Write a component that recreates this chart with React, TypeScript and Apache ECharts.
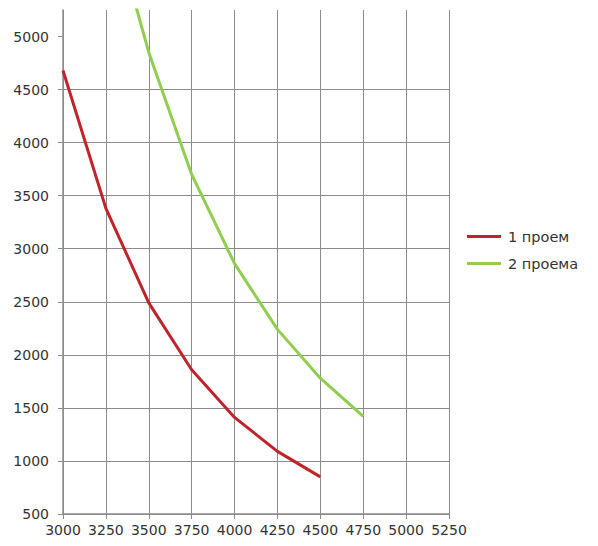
import React, { useEffect, useRef } from "react";
import * as echarts from "echarts";

const series1Name = "1 проем";
const series2Name = "2 проема";
const series1X = [3000, 3250, 3500, 3750, 4000, 4250, 4500];
const series1Y = [4680, 3380, 2490, 1860, 1410, 1090, 850];
const series2X = [3250, 3500, 3750, 4000, 4250, 4500, 4750];
const series2Y = [6300, 4850, 3700, 2860, 2240, 1780, 1420];
const yTicks = [500, 1000, 1500, 2000, 2500, 3000, 3500, 4000, 4500, 5000];

export default function App() {
  const ref = useRef<HTMLDivElement>(null);
  useEffect(() => {
    const chart = echarts.init(ref.current!, null, { renderer: "svg" });
    const font = "DejaVu Sans";
    const gridColor = "#8c8c8c";
    const textColor = "#333";
    const red = "#c0232b";
    const green = "#8fce4e";
    chart.setOption({
      animation: false,
      textStyle: { fontFamily: font },
      grid: { left: 63, right: 149, top: 10, bottom: 32 },
      legend: {
        orient: "vertical",
        left: 467,
        top: 229,
        padding: 0,
        icon: "rect",
        itemWidth: 34,
        itemHeight: 3,
        itemGap: 12,
        textStyle: { fontFamily: font, fontSize: 14.5, color: textColor, padding: [0, 0, 0, 2] },
        data: [series1Name, series2Name],
      },
      xAxis: {
        type: "value",
        min: 3000,
        max: 5250,
        interval: 250,
        axisLine: { show: true, lineStyle: { color: gridColor, width: 1.5 } },
        axisTick: { show: true, length: 5, lineStyle: { color: gridColor } },
        axisLabel: { fontFamily: font, fontSize: 14, color: textColor, margin: 9, formatter: (v: number) => String(v) },
        splitLine: { show: true, lineStyle: { color: gridColor, width: 1 } },
      },
      yAxis: {
        type: "value",
        min: 500,
        max: 5250,
        interval: 500,
        axisLine: { show: true, lineStyle: { color: gridColor, width: 1.5 } },
        axisTick: { show: true, length: 5, lineStyle: { color: gridColor }, customValues: yTicks },
        axisLabel: { fontFamily: font, fontSize: 14, color: textColor, margin: 14, customValues: yTicks, formatter: (v: number) => String(v) },
        splitLine: { show: true, showMaxLine: false, lineStyle: { color: gridColor, width: 1 } },
      },
      series: [
        {
          name: series1Name,
          type: "line",
          symbol: "none",
          clip: true,
          lineStyle: { color: red, width: 3 },
          itemStyle: { color: red },
          data: series1X.map((x, i) => [x, series1Y[i]]),
        },
        {
          name: series2Name,
          type: "line",
          symbol: "none",
          clip: true,
          lineStyle: { color: green, width: 3 },
          itemStyle: { color: green },
          data: series2X.map((x, i) => [x, series2Y[i]]),
        },
      ],
    });
    return () => chart.dispose();
  }, []);
  return <div ref={ref} style={{ width: 598, height: 546, position: "absolute", left: 0, top: 0 }} />;
}
